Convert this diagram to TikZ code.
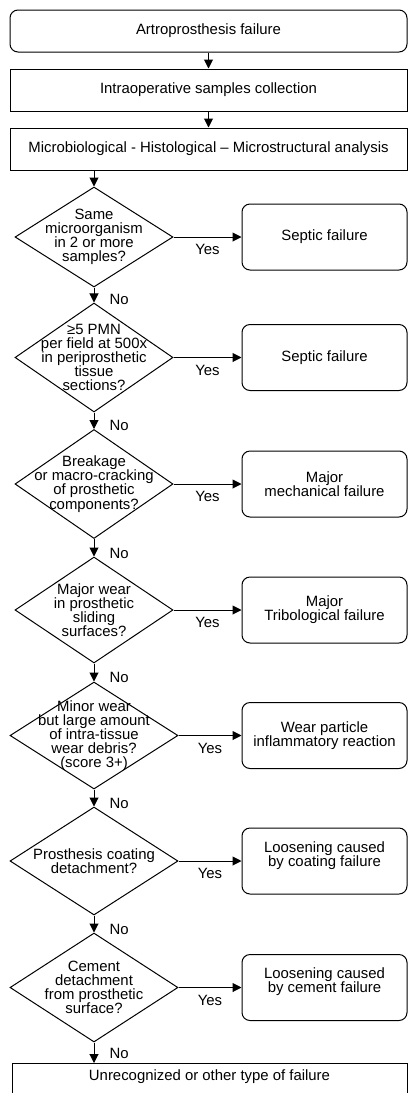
\documentclass[tikz,border=0pt]{standalone}
\usepackage{fontspec}
\setmainfont{Liberation Sans}
\usetikzlibrary{shapes.geometric,arrows.meta}
\begin{document}
\begin{tikzpicture}
            [x=1pt,y=-1pt,font=\fontsize{14.9}{14.1}\selectfont,
             Box/.style={rectangle,draw=black,line width=1pt,minimum width=397pt,minimum height=42pt,inner sep=0pt},
             Start/.style={Box,rounded corners=8pt},
             Dec/.style={diamond,draw=black,line width=1pt,minimum width=158pt,inner sep=0pt},
             Txt/.style={align=center,inner sep=0pt},
             Res/.style={rectangle,rounded corners=8pt,draw=black,line width=1pt,minimum width=165pt,minimum height=66pt,inner sep=0pt,align=center},
             Arr/.style={line width=1pt,-{Triangle[length=9pt,width=9pt]}},
             YesLabel/.style={below=7pt,inner sep=0pt},
             NoLabel/.style={pos=0.8,anchor=west,xshift=15pt,inner sep=0pt}]
            \useasboundingbox (0,0) rectangle (408,1093);
            \node[Start] (s1) at (208.5,31) {Artroprosthesis failure};
            \node[Box] (s2) at (208.5,90) {Intraoperative samples collection};
            \node[Box] (s3) at (208.5,149) {Microbiological - Histological – Microstructural analysis};
            \node[Dec,minimum height=100pt] (q1) at (94,237) {};
            \node[Txt] (t1) at (q1) {Same\\microorganism\\in 2 or more\\samples?};
            \node[Dec,minimum height=109pt] (q2) at (94,357.5) {};
            \node[Txt] (t2) at (q2) {≥5 PMN\\per field at 500x\\in periprosthetic\\tissue\\sections?};
            \node[Dec,minimum height=109pt] (q3) at (94,484) {};
            \node[Txt] (t3) at (q3) {Breakage\\or macro-cracking\\of prosthetic\\components?};
            \node[Dec,minimum height=106pt] (q4) at (94,610) {};
            \node[Txt] (t4) at (q4) {Major wear\\in prosthetic\\sliding\\surfaces?};
            \node[Dec,minimum width=168pt,minimum height=107pt] (q5) at (94,735.5) {};
            \node[Txt] (t5) at (q5) {Minor wear\\but large amount\\of intra-tissue\\wear debris?\\(score 3+)};
            \node[Dec,minimum width=168pt,minimum height=108pt] (q6) at (94,861) {};
            \node[Txt] (t6) at (q6) {Prosthesis coating\\detachment?};
            \node[Dec,minimum width=168pt,minimum height=109pt] (q7) at (94,987.5) {};
            \node[Txt] (t7) at (q7) {Cement\\detachment\\from prosthetic\\surface?};
            \node[Res] (r1) at (324.5,237) {Septic failure};
            \node[Res] (r2) at (324.5,357.5) {Septic failure};
            \node[Res] (r3) at (324.5,484) {Major\\mechanical failure};
            \node[Res] (r4) at (324.5,610) {Major\\Tribological failure};
            \node[Res] (r5) at (324.5,735.5) {Wear particle\\inflammatory reaction};
            \node[Res] (r6) at (324.5,861) {Loosening caused\\by coating failure\\\mbox{}};
            \node[Res] (r7) at (324.5,987.5) {Loosening caused\\by cement failure\\\mbox{}};
            \node[Box,anchor=north,minimum width=395pt,minimum height=0pt,inner ysep=6pt,text depth=30pt] (o) at (209.5,1063) {Unrecognized or other type of failure};
            \draw [Arr] (s1) to (s2);
            \draw [Arr] (s2) to (s3);
            \draw [Arr] (q1.north |- s3.south) to (q1);
            \draw [Arr] (q1) to node[YesLabel] {Yes} (r1);
            \draw [Arr] (q2) to node[YesLabel] {Yes} (r2);
            \draw [Arr] (q3) to node[YesLabel] {Yes} (r3);
            \draw [Arr] (q4) to node[YesLabel] {Yes} (r4);
            \draw [Arr] (q5) to node[YesLabel] {Yes} (r5);
            \draw [Arr] (q6) to node[YesLabel] {Yes} (r6);
            \draw [Arr] (q7) to node[YesLabel] {Yes} (r7);
            \draw [Arr] (q1) to node[NoLabel] {No} (q2);
            \draw [Arr] (q2) to node[NoLabel] {No} (q3);
            \draw [Arr] (q3) to node[NoLabel] {No} (q4);
            \draw [Arr] (q4) to node[NoLabel] {No} (q5);
            \draw [Arr] (q5) to node[NoLabel] {No} (q6);
            \draw [Arr] (q6) to node[NoLabel] {No} (q7);
            \draw [Arr] (q7) to node[NoLabel,pos=0.55] {No} (q7.south |- o.north);
        \end{tikzpicture}
\end{document}
